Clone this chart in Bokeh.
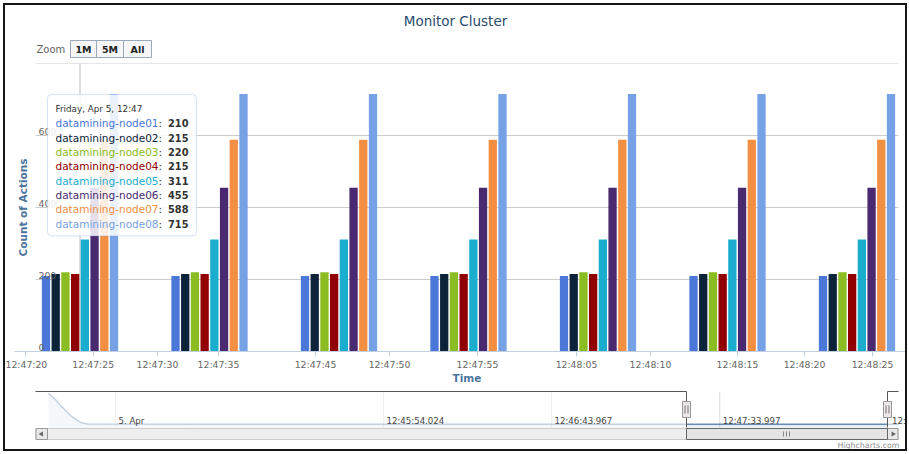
import math
from bokeh.plotting import figure
from bokeh.layouts import column
from bokeh.models import (Range1d, FixedTicker, Span, BoxAnnotation, Label,
                          LabelSet, ColumnDataSource)
from bokeh.transform import dodge
from bokeh.embed import file_html
from bokeh.resources import INLINE
from bokeh.core.properties import value

# ---------------- data ----------------
series_names = ["datamining-node01", "datamining-node02", "datamining-node03",
                "datamining-node04", "datamining-node05", "datamining-node06",
                "datamining-node07", "datamining-node08"]
node01 = [210, 210, 210, 210, 210, 210, 210]
node02 = [215, 215, 215, 215, 215, 215, 215]
node03 = [220, 220, 220, 220, 220, 220, 220]
node04 = [215, 215, 215, 215, 215, 215, 215]
node05 = [311, 311, 311, 311, 311, 311, 311]
node06 = [455, 455, 455, 455, 455, 455, 455]
node07 = [588, 588, 588, 588, 588, 588, 588]
node08 = [715, 715, 715, 715, 715, 715, 715]
sample_index = [0, 1, 2, 3, 4, 5, 6]          # ordinal positions of the samples
x_tick_labels = ["12:47:20", "12:47:25", "12:47:30", "12:47:35", "12:47:45", "12:47:50",
                 "12:47:55", "12:48:05", "12:48:10", "12:48:15", "12:48:20", "12:48:25"]
y_tick_values = [0, 200, 400, 600, 800]
y_tick_labels = ["0", "200", "400", "600"]
tooltip_header = "Friday, Apr 5, 12:47"
zoom_buttons = ["1M", "5M", "All"]
# navigator (seconds after 12:44:00)
nav_seconds = [14.4, 16.5, 18.0, 19.5, 21.0, 22.5, 24.0, 26.0, 60.0, 120.0, 180.0, 267.1]
nav_counts = [2250, 1840, 1450, 1120, 790, 530, 330, 230, 212, 210, 211, 210]
nav_tick_seconds = [34.35, 114.024, 163.967, 213.997, 264.3]
nav_tick_labels = ["5. Apr", "12:45:54.024", "12:46:43.967", "12:47:33.997", "12:4"]

series = [node01, node02, node03, node04, node05, node06, node07, node08]
colors = ["#4a77d8", "#0d233a", "#8bbc21", "#910000", "#1aadce", "#492970", "#f28f43", "#77a1e5"]

# ---------------- layout constants ----------------
FONT = "DejaVu Sans"
W = 900
G0, GS = 79.5, 129.5                       # pixel centre of first sample, pixels per sample
FR_L, FR_R, FR_T, FR_B = 14, 905, 63, 352   # frame in page pixels
PLOT_L, PLOT_R = 35, 898                    # visual plot area (grid lines)
XR = ((FR_L - G0) / GS, (FR_R - G0) / GS)
x_tick_pos = [-0.421, 0.102, 0.598, 1.069, 1.819, 2.390, 3.069, 3.834, 4.405, 5.077, 5.595, 6.120]
pitch, bar_w = 0.075, 0.064
MBL, MBR = FR_L - 5, 905 - FR_R
P1_BOTTOM = 372


def ux(px):
    return (px - G0) / GS


def vy(py):
    return (FR_B - py) / (FR_B - FR_T) * 800.0


def deco_fig(h, y0, y1):
    f = figure(width=W, height=h, x_range=Range1d(FR_L, FR_R), y_range=Range1d(y1, y0),
               toolbar_location=None, output_backend="svg", title=None,
               min_border_left=MBL, min_border_right=MBR, min_border_top=0,
               min_border_bottom=0, x_axis_location=None, y_axis_location=None)
    f.outline_line_color = None
    f.grid.visible = False
    return f


# ---------------- top strip: title + zoom buttons ----------------
p0 = deco_fig(FR_T - 5, 5, FR_T)
p0.text(x=[455], y=[20], text=["Monitor Cluster"], text_align="center", text_baseline="middle",
        text_font=value(FONT), text_font_size="13.5px", text_color="#274b6d")
p0.text(x=[36], y=[48.5], text=["Zoom"], text_align="left", text_baseline="middle",
        text_font=value(FONT), text_font_size="10px", text_color="#666666")
bl = [70, 96, 123]
br = [96, 123, 151]
p0.quad(left=bl, right=br, top=[40] * 3, bottom=[57] * 3, fill_color="#f6f6f6",
        line_color="#9aa8bb", line_width=1)
p0.text(x=[(a + b) / 2 for a, b in zip(bl, br)], y=[48.5] * 3, text=zoom_buttons,
        text_align="center", text_baseline="middle", text_font=value(FONT),
        text_font_size="9.5px", text_font_style="bold", text_color="#222222")

# ---------------- main chart ----------------
p1 = figure(width=W, height=P1_BOTTOM - FR_T, x_range=Range1d(*XR), y_range=Range1d(0, 800),
            toolbar_location=None, output_backend="svg", title=None,
            min_border_left=MBL, min_border_right=MBR, min_border_top=0,
            min_border_bottom=P1_BOTTOM - FR_B, y_axis_location=None)
p1.outline_line_color = None
p1.background_fill_color = "white"

# horizontal grid lines (drawn from the y tick values)
p1.segment(x0=[ux(PLOT_L)] * len(y_tick_values), x1=[ux(PLOT_R)] * len(y_tick_values),
           y0=y_tick_values, y1=y_tick_values, line_color="#cccccc", line_width=1)

src = ColumnDataSource(dict(g=sample_index, **{f"s{i}": s for i, s in enumerate(series)}))
for i, col in enumerate(colors):
    p1.vbar(x=dodge("g", (i - 3.5) * pitch, range=p1.x_range), top=f"s{i}", width=bar_w,
            source=src, fill_color=col, line_color=None)

xa = p1.xaxis[0]
xa.ticker = FixedTicker(ticks=x_tick_pos)
xa.major_label_overrides = {t: l for t, l in zip(x_tick_pos, x_tick_labels)}
xa.minor_tick_line_color = None
xa.major_tick_in = 0
xa.major_tick_out = 5
xa.major_tick_line_color = "#C0D0E0"
xa.axis_line_color = "#C0D0E0"
xa.major_label_text_font = FONT
xa.major_label_text_font_size = "9.3px"
xa.major_label_text_color = "#666666"
xa.major_label_standoff = 2
p1.xgrid.visible = False
p1.ygrid.visible = False

# y axis title and tick labels inside the plot frame
p1.add_layout(Label(x=ux(22), y=400, text="Count of Actions", angle=math.pi / 2,
                    text_align="center", text_baseline="middle", text_font=FONT,
                    text_font_size="10.5px", text_font_style="bold", text_color="#4d759e"))
ylab = ColumnDataSource(dict(x=[ux(38)] * len(y_tick_labels), y=y_tick_values[:len(y_tick_labels)],
                             t=y_tick_labels))
p1.add_layout(LabelSet(x="x", y="y", text="t", source=ylab, text_align="left",
                       text_baseline="alphabetic", y_offset=1, text_font=value(FONT),
                       text_font_size="9.3px", text_color="#666666"))

# crosshair at the hovered sample
p1.add_layout(Span(location=sample_index[0], dimension="height", line_color="#C0C0C0",
                   line_width=1, level="underlay"))

# tooltip
p1.add_layout(BoxAnnotation(left=ux(47), right=ux(196), top=vy(94), bottom=vy(236),
                            fill_color="white", fill_alpha=0.85, line_color="#7ca0e0",
                            line_width=1, border_radius=4))
p1.add_layout(Label(x=ux(55), y=vy(109), text=tooltip_header, text_baseline="middle",
                    text_font=FONT, text_font_size="8.8px", text_color="#333333"))
for i, (name, s, col) in enumerate(zip(series_names, series, colors)):
    yy = vy(123 + i * 14.4)
    p1.add_layout(Label(x=ux(55), y=yy, text=name, text_baseline="middle", text_font=FONT,
                        text_font_size="10.5px", text_color=col))
    p1.add_layout(Label(x=ux(158), y=yy, text=":", text_baseline="middle", text_font=FONT,
                        text_font_size="10.5px", text_color="#333333"))
    p1.add_layout(Label(x=ux(188), y=yy, text=str(s[0]), text_baseline="middle",
                        text_align="right", text_font=FONT, text_font_size="9.8px",
                        text_font_style="bold", text_color="#333333"))

# ---------------- x title, navigator + scrollbar ----------------
p2 = deco_fig(449 - P1_BOTTOM, P1_BOTTOM, 449)
p2.text(x=[(PLOT_L + PLOT_R) / 2], y=[377.5], text=["Time"], text_align="center",
        text_baseline="middle", text_font=value(FONT), text_font_size="10.5px",
        text_font_style="bold", text_color="#4d759e")
NAV_PX_PER_S = 168.0 / 49.943
t_at_383 = 114.024
p2.extra_x_ranges = {"nav": Range1d(t_at_383 - (383 - FR_L) / NAV_PX_PER_S,
                                    t_at_383 + (FR_R - 383) / NAV_PX_PER_S)}
ny = 35.0 / 2300.0
p2.extra_y_ranges = {"navy": Range1d(-(449 - 427) / ny, 2300 + (392 - P1_BOTTOM) / ny)}

p2.segment(x0=nav_tick_seconds[:4], x1=nav_tick_seconds[:4], y0=[391] * 4, y1=[427] * 4,
           x_range_name="nav", line_color="#dddddd", line_width=1)
p2.varea(x=nav_seconds, y1=[0] * len(nav_seconds), y2=nav_counts, x_range_name="nav",
         y_range_name="navy", fill_color="#4572A7", fill_alpha=0.13)
p2.line(x=nav_seconds, y=nav_counts, x_range_name="nav", y_range_name="navy",
        line_color="#4572A7", line_width=1.5, line_alpha=0.8)
# masks over unselected parts
p2.quad(left=[36, 887], right=[686, 898], top=[391, 391], bottom=[427, 427],
        fill_color="white", fill_alpha=0.6, line_color=None)
p2.text(x=nav_tick_seconds, y=[420] * 5, text=nav_tick_labels, x_offset=3,
        x_range_name="nav", text_align="left", text_baseline="middle",
        text_font=value(FONT), text_font_size="8.6px", text_color="#444444")
# outline
p2.line(x=[35, 686, 686], y=[391, 391, 427], line_color="#555555", line_width=1)
p2.line(x=[887, 887, 898], y=[427, 391, 391], line_color="#555555", line_width=1)
# scrollbar
p2.quad(left=[35.5], right=[897.5], top=[428], bottom=[439], fill_color="#eeeeee",
        line_color="#cccccc")
p2.quad(left=[35.5, 887], right=[47, 897.5], top=[428, 428], bottom=[439, 439],
        fill_color="#e8e8e8", line_color="#999999")
p2.quad(left=[686], right=[887], top=[428], bottom=[439], fill_color="#e4e4e4",
        line_color="#666666")
p2.segment(x0=[783, 786, 789], x1=[783, 786, 789], y0=[431] * 3, y1=[436] * 3,
           line_color="#888888", line_width=1)
p2.scatter(x=[41], y=[433.5], marker="triangle", size=5, angle=math.pi / 2,
           fill_color="#666666", line_color=None)
p2.scatter(x=[892.5], y=[433.5], marker="triangle", size=5, angle=-math.pi / 2,
           fill_color="#666666", line_color=None)
# handles
p2.rect(x=[686, 887], y=[409, 409], width=8, height=16, fill_color="#ebe7e8",
        line_color="#999999")
p2.segment(x0=[684.5, 687.5, 885.5, 888.5], x1=[684.5, 687.5, 885.5, 888.5],
           y0=[405] * 4, y1=[413] * 4, line_color="#777777", line_width=1)
# credits
p2.text(x=[899], y=[445], text=["Highcharts.com"], text_align="right", text_baseline="middle",
        text_font=value(FONT), text_font_size="7.9px", text_color="#909090")

layout = column(p0, p1, p2, spacing=0,
                styles={"border": "2px solid #161616", "margin-left": "3px",
                        "margin-top": "3px", "background": "white"})

open("out.html", "w").write(file_html(layout, INLINE))
